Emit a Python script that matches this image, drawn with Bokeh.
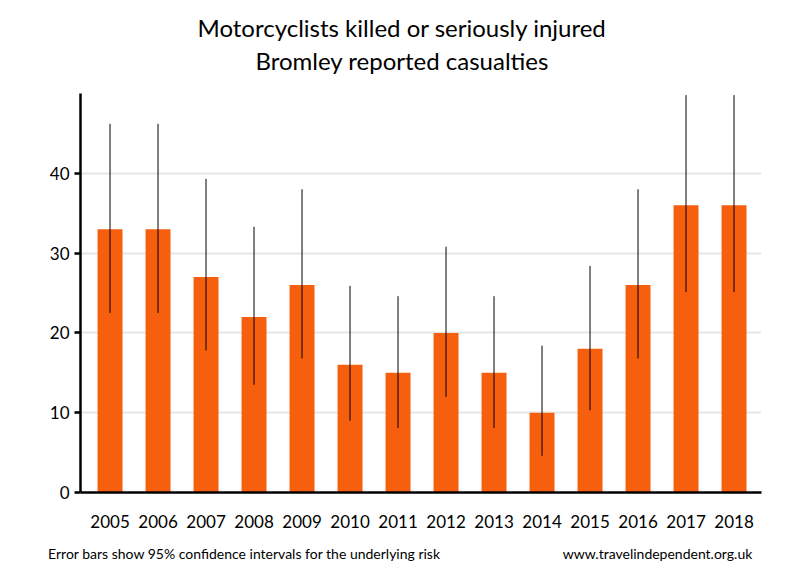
from bokeh.plotting import figure
from bokeh.models import (ColumnDataSource, FixedTicker, Range1d, Title, LinearAxis)
from bokeh.embed import file_html
from bokeh.resources import INLINE

years = ["2005", "2006", "2007", "2008", "2009", "2010", "2011",
         "2012", "2013", "2014", "2015", "2016", "2017", "2018"]
values = [33, 33, 27, 22, 26, 16, 15, 20, 15, 10, 18, 26, 36, 36]
lower = [22.5, 22.5, 17.8, 13.5, 16.8, 9.0, 8.1, 12.0, 8.1, 4.6, 10.3, 16.8, 25.1, 25.1]
upper = [46.2, 46.2, 39.3, 33.3, 38.0, 25.9, 24.6, 30.8, 24.6, 18.4, 28.4, 38.0, 49.8, 49.8]
y_ticks = [0, 10, 20, 30, 40]
footer_left = "Error bars show 95% confidence intervals for the underlying risk"
footer_right = "www.travelindependent.org.uk"

FONT = "Lato"
xs = list(range(len(years)))
src = ColumnDataSource(dict(x=xs, top=values, lo=lower, hi=upper))

x0 = -0.615
p = figure(width=800, height=580, output_backend="svg", toolbar_location=None,
           title="Motorcyclists killed or seriously injured",
           x_range=Range1d(x0, x0 + 681 / 48), y_range=Range1d(0, 50),
           min_border_left=80, min_border_right=39, min_border_top=93, min_border_bottom=88)
p.outline_line_color = None
p.background_fill_color = "white"
p.border_fill_color = "white"
p.extra_x_ranges = {"px": Range1d(80, 761)}

p.add_layout(Title(text="Bromley reported casualties", align="left", offset=175,
                   vertical_align="middle",
                   text_font=FONT, text_font_size="24px", text_font_style="normal",
                   text_color="black", standoff=36), "above")
p.title.align = "left"
p.title.offset = 117
p.title.text_font = FONT
p.title.text_font_size = "24px"
p.title.text_font_style = "normal"
p.title.text_color = "black"
p.title.standoff = -31

p.vbar(x="x", top="top", width=0.52, bottom=0, source=src,
       fill_color="#F55F0E", line_color=None)
p.segment(x0="x", y0="lo", x1="x", y1="hi", source=src,
          line_color="black", line_width=1)

p.xgrid.grid_line_color = None
p.ygrid.grid_line_color = "#e6e6e6"
p.ygrid.grid_line_width = 2
p.ygrid.ticker = FixedTicker(ticks=[t for t in y_ticks if t > 0])

p.yaxis.ticker = FixedTicker(ticks=y_ticks)
p.yaxis.axis_line_width = 2.5
p.yaxis.major_tick_line_width = 2.5
p.yaxis.major_tick_out = 6
p.yaxis.major_tick_in = 0
p.yaxis.minor_tick_line_color = None
p.yaxis.major_label_standoff = 5
p.yaxis.major_label_text_font = FONT
p.yaxis.major_label_text_font_size = "17px"
p.yaxis.major_label_text_color = "black"

p.xaxis.ticker = FixedTicker(ticks=xs)
p.xaxis.major_label_overrides = {i: y for i, y in enumerate(years)}
p.xaxis.axis_line_width = 2.5
p.xaxis.major_tick_line_color = None
p.xaxis.minor_tick_line_color = None
p.xaxis.major_label_standoff = 16
p.xaxis.major_label_text_font = FONT
p.xaxis.major_label_text_font_size = "17px"
p.xaxis.major_label_text_color = "black"

# footer line drawn as an extra axis in a pixel-like range
foot = LinearAxis(x_range_name="px", ticker=FixedTicker(ticks=[244, 657]),
                  major_label_overrides={244: footer_left, 657: footer_right},
                  axis_line_color=None, major_tick_line_color=None,
                  minor_tick_line_color=None, major_tick_out=0, major_tick_in=0,
                  major_label_standoff=14,
                  major_label_text_font=FONT, major_label_text_font_size="14px",
                  major_label_text_color="black")
p.add_layout(foot, "below")

open("out.html", "w").write(file_html(p, INLINE))
